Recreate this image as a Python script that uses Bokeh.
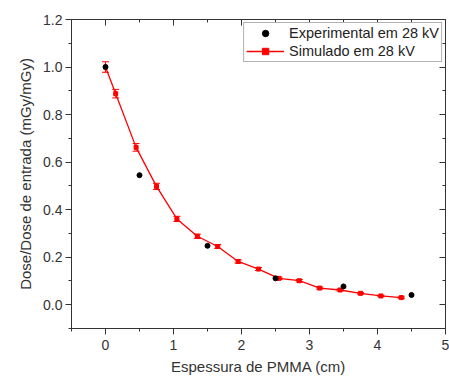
from bokeh.plotting import figure
from bokeh.models import (ColumnDataSource, LinearAxis, Legend, LegendItem, Range1d, Whisker,
                          FixedTicker, TeeHead, PrintfTickFormatter, CustomJSTickFormatter)
from bokeh.embed import file_html
from bokeh.resources import INLINE

# Data
sim_x = [0.0, 0.15, 0.45, 0.75, 1.05, 1.35, 1.65, 1.95, 2.25, 2.55, 2.85, 3.15, 3.45, 3.75, 4.05, 4.35]
sim_y = [1.0, 0.888, 0.662, 0.498, 0.361, 0.288, 0.245, 0.182, 0.150, 0.111, 0.101, 0.070, 0.062, 0.048, 0.037, 0.030]
sim_err = [0.022, 0.018, 0.016, 0.013, 0.011, 0.009, 0.008, 0.007, 0.006, 0.005, 0.005, 0.004, 0.004, 0.003, 0.003, 0.003]
exp_x = [0.0, 0.5, 1.5, 2.5, 3.5, 4.5]
exp_y = [1.0, 0.545, 0.248, 0.111, 0.077, 0.041]
x_ticks = [0, 1, 2, 3, 4, 5]
y_ticks = [0.0, 0.2, 0.4, 0.6, 0.8, 1.0, 1.2]

FONT = "Liberation Sans"
TXT = "#333333"

p = figure(output_backend="svg", toolbar_location=None,
           frame_width=374, frame_height=309,
           x_range=Range1d(-0.5, 5.0), y_range=Range1d(-0.1, 1.2),
           min_border_left=71, min_border_top=19, min_border_right=4, min_border_bottom=48)
p.background_fill_color = "white"
p.border_fill_color = "white"
p.grid.visible = False
p.outline_line_color = "#333333"
p.outline_line_width = 1

src = ColumnDataSource(dict(x=sim_x, y=sim_y,
                            lo=[a - b for a, b in zip(sim_y, sim_err)],
                            hi=[a + b for a, b in zip(sim_y, sim_err)]))
esrc = ColumnDataSource(dict(x=exp_x, y=exp_y))

w = Whisker(source=src, base="x", lower="lo", upper="hi", line_color="red", line_width=1,
            upper_head=TeeHead(size=7, line_color="red"), lower_head=TeeHead(size=7, line_color="red"))
p.add_layout(w)

l1 = p.line("x", "y", source=src, line_color="red", line_width=1.3)
s1 = p.scatter("x", "y", source=src, marker="square", size=4, color="red")
s2 = p.scatter("x", "y", source=esrc, marker="circle", size=5, color="black")

xt = FixedTicker(ticks=x_ticks, minor_ticks=[-0.5, 0.5, 1.5, 2.5, 3.5, 4.5])
yt = FixedTicker(ticks=y_ticks, minor_ticks=[-0.1, 0.1, 0.3, 0.5, 0.7, 0.9, 1.1])

for ax in [p.xaxis[0], p.yaxis[0]]:
    ax.major_tick_out = 6
    ax.major_tick_in = 0
    ax.minor_tick_out = 3
    ax.minor_tick_in = 0
    ax.axis_line_color = "#333333"
    ax.major_tick_line_color = "#333333"
    ax.minor_tick_line_color = "#333333"
    ax.major_label_text_font = FONT
    ax.major_label_text_font_size = "14px"
    ax.major_label_text_color = TXT
    ax.axis_label_text_font = FONT
    ax.axis_label_text_font_size = "15px"
    ax.axis_label_text_font_style = "normal"
    ax.axis_label_text_color = TXT

p.xaxis[0].ticker = xt
p.yaxis[0].ticker = yt
p.yaxis[0].formatter = PrintfTickFormatter(format="%.1f")
p.yaxis[0].major_label_standoff = 3
p.xaxis[0].axis_label = "Espessura de PMMA (cm)"
p.yaxis[0].axis_label = "Dose/Dose de entrada (mGy/mGy)"
p.xaxis[0].axis_label_standoff = 5
p.yaxis[0].axis_label_standoff = 6

top = LinearAxis(ticker=xt, formatter=CustomJSTickFormatter(code="return ''"), major_tick_in=6, major_tick_out=0,
                 minor_tick_in=3, minor_tick_out=0, axis_line_color="#333333", major_label_standoff=0,
                 major_tick_line_color="#333333", minor_tick_line_color="#333333")
right = LinearAxis(ticker=yt, formatter=CustomJSTickFormatter(code="return ''"), major_tick_in=6, major_tick_out=0,
                   minor_tick_in=3, minor_tick_out=0, axis_line_color="#333333", major_label_standoff=0,
                   major_tick_line_color="#333333", minor_tick_line_color="#333333")
p.add_layout(top, "above")
p.add_layout(right, "right")

legend = Legend(items=[
    LegendItem(label="Experimental em 28 kV", renderers=[s2]),
    LegendItem(label="Simulado em 28 kV", renderers=[l1, s1]),
], location="top_right")
legend.label_text_font = FONT
legend.label_text_font_size = "14.5px"
legend.label_text_color = "#222222"
legend.border_line_color = "#666666"
legend.margin = 3
legend.padding = 2
legend.spacing = 2
legend.label_height = 16
legend.glyph_height = 16
legend.glyph_width = 38
legend.label_standoff = 5
p.add_layout(legend)

open("out.html", "w").write(file_html(p, INLINE))
